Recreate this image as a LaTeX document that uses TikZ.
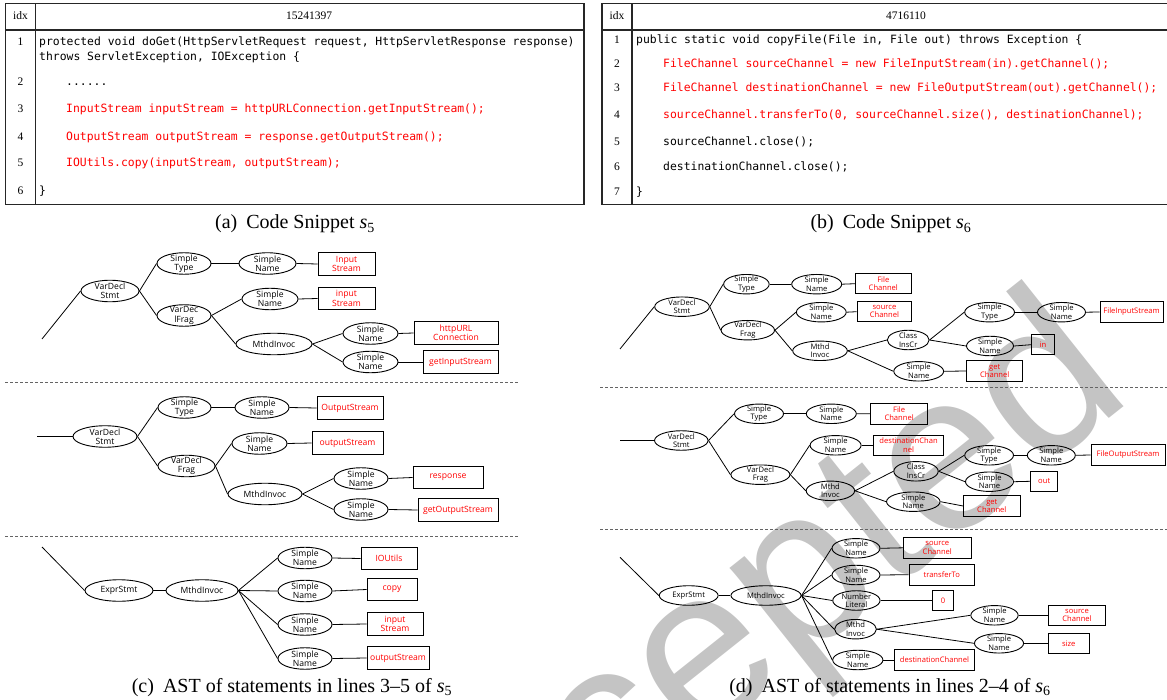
\documentclass[tikz,border=0pt]{standalone}
\usepackage{fontspec}
\setmainfont{Liberation Serif}
\newfontfamily\treefont{Open Sans}
\newfontfamily\codefont{DejaVu Sans Mono}
\newfontfamily\wmfont{Liberation Sans}
\usetikzlibrary{shapes.geometric}
\definecolor{wmgray}{RGB}{196,196,196}
\definecolor{dashgray}{RGB}{100,100,100}
\definecolor{codered}{RGB}{255,0,0}
\tikzset{
  tbl/.style={line width=1.2pt, draw=black!85},
  hdr/.style={inner sep=0pt, font=\fontsize{11.5}{13}\selectfont},
  codetxt/.style={inner sep=0pt, anchor=base west, font=\codefont\fontsize{11.4}{13}\selectfont},
  rcode/.style={codetxt, text=codered},
  captxt/.style={inner sep=0pt, anchor=base, font=\fontsize{20}{22}\selectfont},
  ec/.style={ellipse, draw, line width=0.9pt, inner xsep=0pt, inner ysep=-4pt,
    minimum width=#1, minimum height=21.5, align=center,
    font=\treefont\fontsize{8.6}{9.4}\selectfont},
  ed/.style={ellipse, draw, line width=0.9pt, inner xsep=0pt, inner ysep=-4pt,
    minimum width=#1, minimum height=19.5, align=center,
    font=\treefont\fontsize{7.6}{8.4}\selectfont},
  bc/.style={rectangle, draw, line width=0.9pt, inner sep=0pt, minimum width=#1,
    minimum height=22.5, align=center, text=codered,
    font=\treefont\fontsize{8.6}{9.4}\selectfont},
  bd/.style={rectangle, draw, line width=0.9pt, inner sep=0pt, minimum width=#1,
    minimum height=20.5, align=center, text=codered,
    font=\treefont\fontsize{7.6}{8.4}\selectfont},
  ln/.style={line width=0.8pt},
  dsh/.style={line width=0.9pt, draw=dashgray, dash pattern=on 3pt off 2pt},
  wmtxt/.style={inner sep=0pt, text=wmgray, font=\wmfont\fontsize{225}{225}\selectfont}
}
\begin{document}
\begin{tikzpicture}[x=1pt,y=-1pt]
\useasboundingbox (0,0) rectangle (1167,700);

% watermark
\begin{scope}
\clip (0,0) rectangle (1167,700);
\node[wmtxt, rotate=38.5, anchor=base west] (wmark) at (401,982) {Accepted};
\end{scope}

% ---------------- table (a)
\draw[tbl] (5.5,3.5) rectangle (584,204.5);
\draw[tbl] (5.5,30) -- (584,30);
\draw[tbl] (35.5,3.5) -- (35.5,204.5);
\node[hdr, anchor=base] (ha1) at (20.5,20) {idx};
\node[hdr, anchor=base] (ha2) at (309,20) {15241397};
\node[hdr, anchor=base] (na1) at (20.5,46) {1};
\node[hdr, anchor=base] (na2) at (20.5,85.5) {2};
\node[hdr, anchor=base] (na3) at (20.5,113) {3};
\node[hdr, anchor=base] (na4) at (20.5,141) {4};
\node[hdr, anchor=base] (na5) at (20.5,167) {5};
\node[hdr, anchor=base] (na6) at (20.5,195) {6};
\node[codetxt] (ca1) at (39,46) {protected void doGet(HttpServletRequest request, HttpServletResponse response)};
\node[codetxt] (ca1b) at (39,61) {throws ServletException, IOException \{};
\node[codetxt] (ca2) at (66,85.5) {......};
\node[rcode] (ca3) at (66,113) {InputStream inputStream = httpURLConnection.getInputStream();};
\node[rcode] (ca4) at (66,141) {OutputStream outputStream = response.getOutputStream();};
\node[rcode] (ca5) at (66,167) {IOUtils.copy(inputStream, outputStream);};
\node[codetxt] (ca6) at (39,195) {\}};
\node[captxt] (capa) at (295,229) {(a)\hspace{0.45em}Code Snippet {\itshape s}\textsubscript{5}};

% ---------------- table (b)
\draw[tbl] (1167,3.5) -- (602,3.5) -- (602,204.5) -- (1167,204.5);
\draw[tbl] (602,30) -- (1167,30);
\draw[tbl] (632,3.5) -- (632,204.5);
\node[hdr, anchor=base] (hb1) at (617,20) {idx};
\node[hdr, anchor=base] (hb2) at (906,20) {4716110};
\node[hdr, anchor=base] (nb1) at (617,44) {1};
\node[hdr, anchor=base] (nb2) at (617,68) {2};
\node[hdr, anchor=base] (nb3) at (617,92) {3};
\node[hdr, anchor=base] (nb4) at (617,119) {4};
\node[hdr, anchor=base] (nb5) at (617,146) {5};
\node[hdr, anchor=base] (nb6) at (617,171) {6};
\node[hdr, anchor=base] (nb7) at (617,196) {7};
\node[codetxt] (cb1) at (636,44) {public static void copyFile(File in, File out) throws Exception \{};
\node[rcode] (cb2) at (663,68) {FileChannel sourceChannel = new FileInputStream(in).getChannel();};
\node[rcode] (cb3) at (663,92) {FileChannel destinationChannel = new FileOutputStream(out).getChannel();};
\node[rcode] (cb4) at (663,119) {sourceChannel.transferTo(0, sourceChannel.size(), destinationChannel);};
\node[codetxt] (cb5) at (663,146) {sourceChannel.close();};
\node[codetxt] (cb6) at (663,171) {destinationChannel.close();};
\node[codetxt] (cb7) at (636,196) {\}};
\node[captxt] (capb) at (891,229) {(b)\hspace{0.45em}Code Snippet {\itshape s}\textsubscript{6}};

% ---------------- (c) tree 1
\coordinate (c1r) at (42,339);
\node[ec=58] (c1a) at (110,291) {VarDecl\\Stmt};
\node[ec=54] (c1b) at (184,263.5) {Simple\\Type};
\node[ec=57] (c1c) at (267.5,263.5) {Simple\\Name};
\node[bc=57] (c1d) at (346.5,264) {Input\\Stream};
\node[ec=54] (c1e) at (184,315.5) {VarDec\\lFrag};
\node[ec=56] (c1f) at (270,299) {Simple\\Name};
\node[bc=57] (c1g) at (346.5,298.5) {input\\Stream};
\node[ec=76] (c1h) at (274,344) {MthdInvoc};
\node[ec=55] (c1i) at (370.5,333.5) {Simple\\Name};
\node[bc=84] (c1j) at (456,333) {httpURL\\Connection};
\node[ec=55] (c1k) at (370.5,362) {Simple\\Name};
\node[bc=75] (c1l) at (460.5,362) {getInputStream};
\draw[ln] (c1r) -- (c1a.west);
\draw[ln] (c1a.east) -- (c1b.west);
\draw[ln] (c1a.east) -- (c1e.west);
\draw[ln] (c1b.east) -- (c1c.west);
\draw[ln] (c1c.east) -- (c1d.west);
\draw[ln] (c1e.east) -- (c1f.west);
\draw[ln] (c1e.east) -- (c1h.west);
\draw[ln] (c1f.east) -- (c1g.west);
\draw[ln] (c1h.east) -- (c1i.west);
\draw[ln] (c1h.east) -- (c1k.west);
\draw[ln] (c1i.east) -- (c1j.west);
\draw[ln] (c1k.east) -- (c1l.west);

\draw[dsh] (5,382) -- (519,382);

% ---------------- (c) tree 2
\coordinate (c2r) at (37,436.5);
\node[ec=64] (c2a) at (105,436.5) {VarDecl\\Stmt};
\node[ec=53] (c2b) at (184.5,407.5) {Simple\\Type};
\node[ec=54] (c2c) at (262,407.5) {Simple\\Name};
\node[bc=66] (c2d) at (350,408) {OutputStream};
\node[ec=57] (c2e) at (186.5,466) {VarDecl\\Frag};
\node[ec=55] (c2f) at (259.5,443.5) {Simple\\Name};
\node[bc=71] (c2g) at (347.5,443) {outputStream};
\node[ec=74] (c2h) at (265,494) {MthdInvoc};
\node[ec=54] (c2i) at (361,478.5) {Simple\\Name};
\node[bc=70] (c2j) at (448,477.5) {response};
\node[ec=54] (c2k) at (361,509.5) {Simple\\Name};
\node[bc=80] (c2l) at (458,510) {getOutputStream};
\draw[ln] (c2r) -- (c2a.west);
\draw[ln] (c2a.east) -- (c2b.west);
\draw[ln] (c2a.east) -- (c2e.west);
\draw[ln] (c2b.east) -- (c2c.west);
\draw[ln] (c2c.east) -- (c2d.west);
\draw[ln] (c2e.east) -- (c2f.west);
\draw[ln] (c2e.east) -- (c2h.west);
\draw[ln] (c2f.east) -- (c2g.west);
\draw[ln] (c2h.east) -- (c2i.west);
\draw[ln] (c2h.east) -- (c2k.west);
\draw[ln] (c2i.east) -- (c2j.west);
\draw[ln] (c2k.east) -- (c2l.west);

\draw[dsh] (5,536) -- (519,536);

% ---------------- (c) tree 3
\coordinate (c3r) at (42,547);
\node[ec=68] (c3a) at (119,590.5) {ExprStmt};
\node[ec=72] (c3b) at (202,590.5) {MthdInvoc};
\node[ec=54] (c3c) at (305,558) {Simple\\Name};
\node[bc=56] (c3d) at (389,558.5) {IOUtils};
\node[ec=54] (c3e) at (305,591) {Simple\\Name};
\node[bc=50] (c3f) at (392,589.5) {copy};
\node[ec=54] (c3g) at (305,624.5) {Simple\\Name};
\node[bc=56] (c3h) at (395,624) {input\\Stream};
\node[ec=54] (c3i) at (305,658.5) {Simple\\Name};
\node[bc=62] (c3j) at (398,658) {outputStream};
\draw[ln] (c3r) -- (c3a.west);
\draw[ln] (c3a.east) -- (c3b.west);
\draw[ln] (c3b.east) -- (c3c.west);
\draw[ln] (c3b.east) -- (c3e.west);
\draw[ln] (c3b.east) -- (c3g.west);
\draw[ln] (c3b.east) -- (c3i.west);
\draw[ln] (c3c.east) -- (c3d.west);
\draw[ln] (c3e.east) -- (c3f.west);
\draw[ln] (c3g.east) -- (c3h.west);
\draw[ln] (c3i.east) -- (c3j.west);
\node[captxt] (capc) at (292,692) {(c)\hspace{0.45em}AST of statements in lines 3--5 of {\itshape s}\textsubscript{5}};

% ---------------- (d) tree 1
\coordinate (d1r) at (620,349);
\node[ed=54.6] (d1a) at (682,306.7) {VarDecl\\Stmt};
\node[ed=45.5] (d1b) at (746.4,284.2) {Simple\\Type};
\node[ed=50] (d1c) at (816.7,284.2) {Simple\\Name};
\node[bd=55.3] (d1d) at (883.3,283.7) {File\\Channel};
\node[ed=53.4] (d1e) at (747.8,330.2) {VarDecl\\Frag};
\node[ed=49.8] (d1f) at (821.3,312.2) {Simple\\Name};
\node[bd=54.5] (d1g) at (884.4,311.7) {source\\Channel};
\node[ed=54.6] (d1h) at (820,350.8) {Mthd\\Invoc};
\node[ed=41.8] (d1i) at (908.2,340) {Class\\InsCr};
\node[ed=49.8] (d1j) at (989.6,312.2) {Simple\\Type};
\node[ed=48] (d1k) at (1061.5,312.2) {Simple\\Name};
\node[bd=63] (d1l) at (1131.5,312) {FileInputStream};
\node[ed=47] (d1m) at (990,346) {Simple\\Name};
\node[bd=23] (d1n) at (1043,344.7) {in};
\node[ed=49.8] (d1o) at (918.7,371.3) {Simple\\Name};
\node[bd=56.4] (d1p) at (994.7,371) {get\\Channel};
\draw[ln] (d1r) -- (d1a.west);
\draw[ln] (d1a.east) -- (d1b.west);
\draw[ln] (d1a.east) -- (d1e.west);
\draw[ln] (d1b.east) -- (d1c.west);
\draw[ln] (d1c.east) -- (d1d.west);
\draw[ln] (d1e.east) -- (d1f.west);
\draw[ln] (d1e.east) -- (d1h.west);
\draw[ln] (d1f.east) -- (d1g.west);
\draw[ln] (d1h.east) -- (d1i.west);
\draw[ln] (d1h.east) -- (d1o.west);
\draw[ln] (d1i.east) -- (d1j.west);
\draw[ln] (d1i.east) -- (d1m.west);
\draw[ln] (d1j.east) -- (d1k.west);
\draw[ln] (d1k.east) -- (d1l.west);
\draw[ln] (d1m.east) -- (d1n.west);
\draw[ln] (d1o.east) -- (d1p.west);

\draw[dsh] (600,387) -- (1167,387);

% ---------------- (d) tree 2
\coordinate (d2r) at (620,440.5);
\node[ed=53.5] (d2a) at (681.3,440.5) {VarDecl\\Stmt};
\node[ed=49] (d2b) at (759,413.8) {Simple\\Type};
\node[ed=50] (d2c) at (831.3,413.8) {Simple\\Name};
\node[bd=56.4] (d2d) at (899.1,413.7) {File\\Channel};
\node[ed=59] (d2e) at (760.4,474.7) {VarDecl\\Frag};
\node[ed=51] (d2f) at (835.6,445.3) {Simple\\Name};
\node[bd=70] (d2g) at (908.6,445.3) {destinationChan\\nel};
\node[ed=48.4] (d2h) at (830.4,490.8) {Mthd\\Invoc};
\node[ed=44.4] (d2i) at (916,471.3) {Class\\InsCr};
\node[ed=48.8] (d2j) at (989.1,455.3) {Simple\\Type};
\node[ed=48] (d2k) at (1051.3,455.3) {Simple\\Name};
\node[bd=74] (d2l) at (1128,455) {FileOutputStream};
\node[ed=48] (d2m) at (989.5,481.7) {Simple\\Name};
\node[bd=26.6] (d2n) at (1044.2,481.3) {out};
\node[ed=53.5] (d2o) at (913.3,501.7) {Simple\\Name};
\node[bd=56.4] (d2p) at (991.8,506) {get\\Channel};
\draw[ln] (d2r) -- (d2a.west);
\draw[ln] (d2a.east) -- (d2b.west);
\draw[ln] (d2a.east) -- (d2e.west);
\draw[ln] (d2b.east) -- (d2c.west);
\draw[ln] (d2c.east) -- (d2d.west);
\draw[ln] (d2e.east) -- (d2f.west);
\draw[ln] (d2e.east) -- (d2h.west);
\draw[ln] (d2f.east) -- (d2g.west);
\draw[ln] (d2h.east) -- (d2i.west);
\draw[ln] (d2h.east) -- (d2o.west);
\draw[ln] (d2i.east) -- (d2j.west);
\draw[ln] (d2i.east) -- (d2m.west);
\draw[ln] (d2j.east) -- (d2k.west);
\draw[ln] (d2k.east) -- (d2l.west);
\draw[ln] (d2m.east) -- (d2n.west);
\draw[ln] (d2o.east) -- (d2p.west);

\draw[dsh] (600,529) -- (1167,529);

% ---------------- (d) tree 3
\coordinate (d3r) at (620,557.3);
\node[ed=58.9] (d3a) at (688.7,595.5) {ExprStmt};
\node[ed=70.2] (d3b) at (766,595.5) {MthdInvoc};
\node[ed=48] (d3c) at (856,548.3) {Simple\\Name};
\node[bd=67.3] (d3d) at (937.3,547.8) {source\\Channel};
\node[ed=48] (d3e) at (856,575) {Simple\\Name};
\node[bd=65.4] (d3f) at (941.8,574.7) {transferTo};
\node[ed=47.3] (d3g) at (856.4,600.5) {Number\\Literal};
\node[bd=20.7] (d3h) at (943.1,600.5) {0};
\node[ed=41.8] (d3i) at (855.5,629.2) {Mthd\\Invoc};
\node[ed=47.3] (d3j) at (994.5,615.3) {Simple\\Name};
\node[bd=57.1] (d3k) at (1077,615.3) {source\\Channel};
\node[ed=49.1] (d3l) at (999,643.3) {Simple\\Name};
\node[bd=40.7] (d3m) at (1068.7,643.3) {size};
\node[ed=50.2] (d3n) at (857.8,660) {Simple\\Name};
\node[bd=80] (d3o) at (934.5,660) {destinationChannel};
\draw[ln] (d3r) -- (d3a.west);
\draw[ln] (d3a.east) -- (d3b.west);
\draw[ln] (d3b.east) -- (d3c.west);
\draw[ln] (d3b.east) -- (d3e.west);
\draw[ln] (d3b.east) -- (d3g.west);
\draw[ln] (d3b.east) -- (d3i.west);
\draw[ln] (d3b.east) -- (d3n.west);
\draw[ln] (d3c.east) -- (d3d.west);
\draw[ln] (d3e.east) -- (d3f.west);
\draw[ln] (d3g.east) -- (d3h.west);
\draw[ln] (d3i.east) -- (d3j.west);
\draw[ln] (d3i.east) -- (d3l.west);
\draw[ln] (d3j.east) -- (d3k.west);
\draw[ln] (d3l.east) -- (d3m.west);
\draw[ln] (d3n.east) -- (d3o.west);
\node[captxt] (capd) at (890,692) {(d)\hspace{0.45em}AST of statements in lines 2--4 of {\itshape s}\textsubscript{6}};
\end{tikzpicture}
\end{document}
